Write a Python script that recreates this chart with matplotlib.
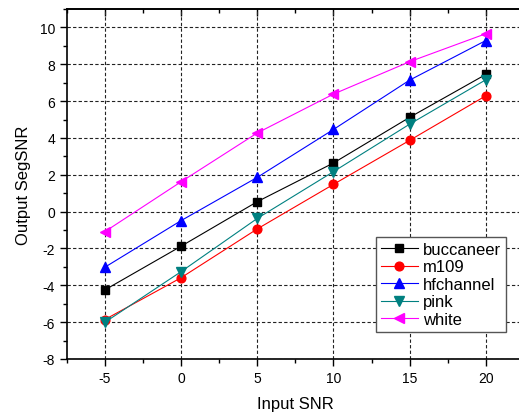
import matplotlib
matplotlib.use("Agg")
import matplotlib.pyplot as plt
from matplotlib.ticker import MultipleLocator

plt.rcParams['font.family'] = ['Liberation Sans', 'DejaVu Sans']
plt.rcParams['axes.unicode_minus'] = False

x_snr = [-5, 0, 5, 10, 15, 20]
buccaneer = [-4.25, -1.88, 0.54, 2.64, 5.12, 7.45]
m109 = [-5.86, -3.59, -0.94, 1.48, 3.87, 6.29]
hfchannel = [-3.02, -0.49, 1.86, 4.46, 7.14, 9.29]
pink = [-6.01, -3.26, -0.37, 2.17, 4.75, 7.16]
white = [-1.09, 1.62, 4.27, 6.38, 8.14, 9.66]

series = [
    ("buccaneer", buccaneer, "#000000", "s", 5.3),
    ("m109", m109, "#ff0000", "o", 6.3),
    ("hfchannel", hfchannel, "#0000ff", "^", 7.0),
    ("pink", pink, "#008080", "v", 7.0),
    ("white", white, "#ff00ff", "<", 7.0),
]

W, H = 519, 414
fig = plt.figure(figsize=(W / 100, H / 100), dpi=100)
left, right, bottom, top = 66.7, 524.0, 360.0, 10.0
ax = fig.add_axes([left / W, 1 - bottom / H, (right - left) / W, (bottom - top) / H])

for name, vals, c, m, ms in series:
    ax.plot(x_snr, vals, color=c, marker=m, markersize=ms, linewidth=0.8,
            markeredgecolor=c, markerfacecolor=c, label=name, clip_on=False)

ax.set_xlim(-7.5, 22.5)
ax.set_ylim(-8, 11)
ax.set_xticks([-5, 0, 5, 10, 15, 20])
ax.set_yticks([-8, -6, -4, -2, 0, 2, 4, 6, 8, 10])
ax.xaxis.set_minor_locator(MultipleLocator(2.5))
ax.yaxis.set_minor_locator(MultipleLocator(1))

ax.grid(True, which='major', color='#222222', linestyle=(0, (3, 2)), linewidth=0.8)
ax.tick_params(axis='both', which='both', labelsize=10, width=1.0, direction='out')
ax.tick_params(which='major', length=5)
ax.tick_params(which='minor', length=3)
# mirrored ticks on the top spine, pointing into the plot
ax2 = ax.secondary_xaxis('top')
ax2.set_xticks([-5, 0, 5, 10, 15, 20])
ax2.xaxis.set_minor_locator(MultipleLocator(2.5))
ax2.tick_params(which='both', direction='in', labeltop=False, width=1.0)
ax2.tick_params(which='major', length=5)
ax2.tick_params(which='minor', length=3)
ax2.spines['top'].set_linewidth(1.2)
for s in ax.spines.values():
    s.set_linewidth(1.2)

ax.set_xlabel("Input SNR", fontsize=12, labelpad=8)
ax.set_ylabel("Output SegSNR", fontsize=12, labelpad=6)

leg = ax.legend(loc='upper left', bbox_to_anchor=(376 / W, 1 - 238 / H),
                bbox_transform=fig.transFigure, fontsize=12, fancybox=False,
                edgecolor='#555555', framealpha=1, borderaxespad=0,
                handlelength=2.2, handletextpad=0.3, labelspacing=0.15,
                borderpad=0.3)
leg.get_frame().set_linewidth(1.0)

fig.savefig("out.png", dpi=100)
